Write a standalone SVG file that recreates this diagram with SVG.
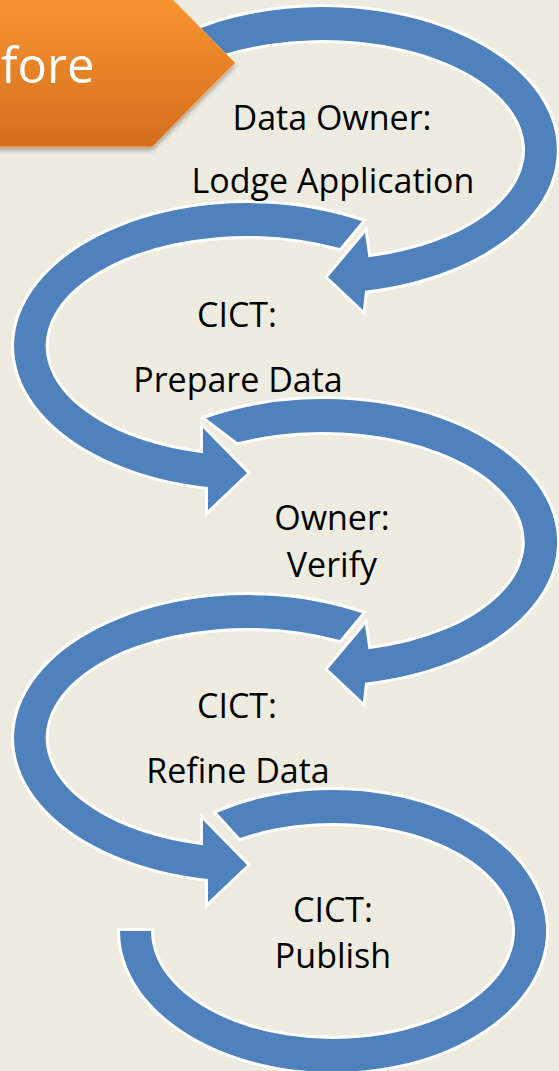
<svg xmlns="http://www.w3.org/2000/svg" width="559" height="1071" viewBox="0 0 559 1071">
  <defs>
    <linearGradient id="orangeGrad" x1="0" y1="0" x2="0" y2="1">
      <stop offset="0" stop-color="#FB9A32"/>
      <stop offset="1" stop-color="#D46E1F"/>
    </linearGradient>
    <filter id="shadow" x="-20%" y="-20%" width="140%" height="150%">
      <feDropShadow dx="0" dy="3" stdDeviation="2" flood-color="#000" flood-opacity="0.3"/>
    </filter>
  </defs>
  <style>
    .loop { fill: #4F81BD; stroke: #FFFFFF; stroke-width: 6; stroke-linejoin: miter; paint-order: stroke; }
    .lbl { font-family: "Open Sans", "Liberation Sans", sans-serif; font-size: 34px; fill: #000000; text-anchor: middle; }
    .banner-text { font-family: "Open Sans", "Liberation Sans", sans-serif; font-size: 49px; fill: #FFFFFF; text-anchor: start; }
  </style>
  <rect x="0" y="0" width="559" height="1071" fill="#EEECE1"/>

  <g id="connectors">
    <path id="loop1" class="loop" d="M 166.4 43.7 A 234 143 0 1 1 365 290.7 L 363 310 L 328 277 L 365 233 L 368.4 257.2 A 202 110 0 1 0 187.8 68.3 Z"/>
    <path id="loop2" class="loop" d="M 362 221.2 A 234 143 0 1 0 208 487 L 208 510 L 247 473 L 203 428 L 203 453.2 A 202 110 0 1 1 339.7 248 Z"/>
    <path id="loop3" class="loop" d="M 206 418.2 A 234 143 0 1 1 365 682.7 L 363 702 L 328 669 L 365 625 L 368.4 649.2 A 202 110 0 1 0 237.6 442.3 Z"/>
    <path id="loop4" class="loop" d="M 362 613.2 A 234 143 0 1 0 208 879 L 208 902 L 247 865 L 203 820 L 203 845.2 A 202 110 0 1 1 339.7 640 Z"/>
    <path id="loop5" class="loop" d="M 120 931 A 213 141 0 1 0 217 812.7 L 240 838.1 A 182 108 0 1 1 151 931 Z"/>
  </g>

  <g id="banner">
    <polygon points="-10,-21 152,-21 235,63 152,147 -10,147" fill="url(#orangeGrad)" stroke="#F6A456" stroke-width="1" filter="url(#shadow)"/>
    <text class="banner-text" x="1" y="83">fore</text>
  </g>

  <g id="step1">
    <text class="lbl" x="332" y="130">Data Owner:</text>
    <text class="lbl" x="333" y="193">Lodge Application</text>
  </g>
  <g id="step2">
    <text class="lbl" x="237" y="327">CICT:</text>
    <text class="lbl" x="238" y="392">Prepare Data</text>
  </g>
  <g id="step3">
    <text class="lbl" x="332" y="530">Owner:</text>
    <text class="lbl" x="332" y="577">Verify</text>
  </g>
  <g id="step4">
    <text class="lbl" x="237" y="718">CICT:</text>
    <text class="lbl" x="238" y="783">Refine Data</text>
  </g>
  <g id="step5">
    <text class="lbl" x="333" y="922">CICT:</text>
    <text class="lbl" x="333" y="968">Publish</text>
  </g>
</svg>
